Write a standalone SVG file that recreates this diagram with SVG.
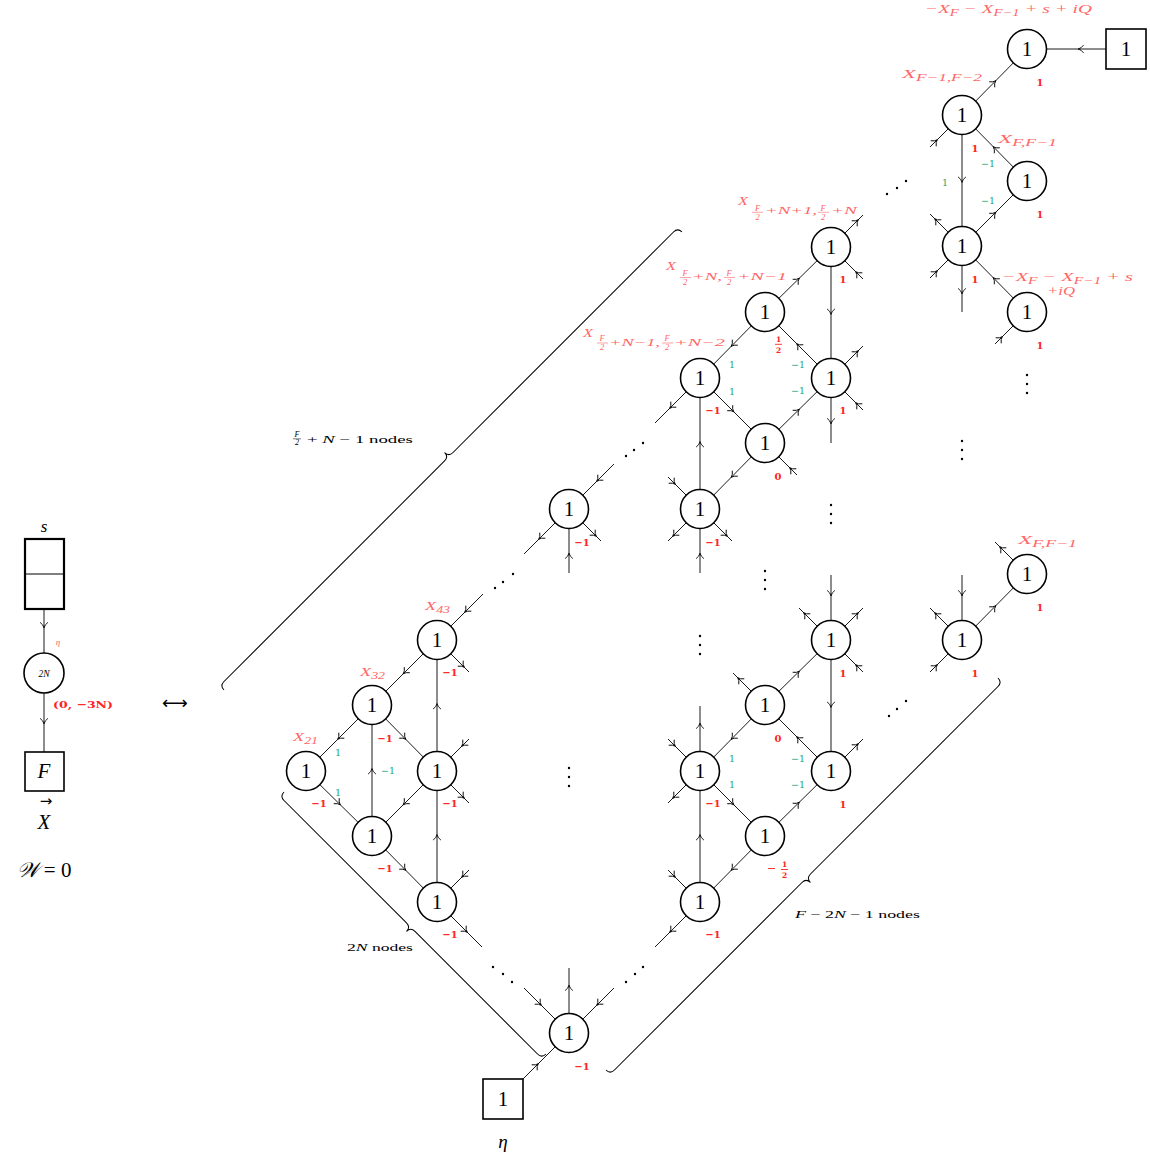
<svg xmlns="http://www.w3.org/2000/svg" xmlns:xlink="http://www.w3.org/1999/xlink" width="1150" height="1158" viewBox="0 0 1150 1158">
<style>
.e{stroke:#000;stroke-width:0.9;fill:none}
.br{stroke:#000;stroke-width:1;fill:none}
.nd{fill:#fff;stroke:#000;stroke-width:1.6}
.sq{fill:#fff;stroke:#000;stroke-width:1.6}
.t1{font-family:"Liberation Serif",serif;font-size:21px;text-anchor:middle;fill:#000}
.rn{font-family:"DejaVu Serif",serif;font-weight:bold;font-size:10px;fill:#f22;text-anchor:middle}
.gn{font-family:"DejaVu Serif",serif;font-size:9.5px;fill:#1fa36c;text-anchor:middle}
.xl{font-family:"Liberation Serif",serif;font-style:italic;font-size:12.5px;fill:#f66}
.sb{font-size:9.5px}
.fr{font-family:"Liberation Serif",serif;font-style:italic;font-size:8.5px;fill:#f66;text-anchor:middle}
.fb{stroke:#f66;stroke-width:0.6}
.rb{stroke:#f22;stroke-width:0.9}
.rf{font-family:"DejaVu Serif",serif;font-weight:bold;font-size:7.5px;fill:#f22;text-anchor:middle}
.bk{font-family:"Liberation Serif",serif;font-size:10px;fill:#000}
.bki{font-family:"Liberation Serif",serif;font-style:italic;font-size:8px;fill:#000;text-anchor:middle}
.m{font-family:"Liberation Serif",serif;font-style:italic;fill:#000;text-anchor:middle}
.dt{fill:#000}
</style>
<defs>
<path id="a" d="M-3.6,-3.9 Q-1.2,-0.6 1.9,0 Q-1.2,0.6 -3.6,3.9" fill="none" stroke="#000" stroke-width="0.9"/>
</defs>

<g id="connectors">
<path class="e" d="M1027,49H1106 M1027,49L962,115 M962,115L1027,181 M962,115V246 M1027,181L962,246 M962,246L1027,312"/>
<path class="e" d="M831,247L765,312 M831,247V378 M765,312L700,378 M765,312L831,378 M700,378L765,443 M831,378L765,443 M700,378V509 M765,443L700,509"/>
<path class="e" d="M1027,574L962,640"/>
<path class="e" d="M831,640L765,705 M831,640V771 M765,705L700,771 M765,705L831,771 M700,771L765,836 M831,771L765,836 M700,771V902 M765,836L700,902"/>
<path class="e" d="M437,640L372,705 M437,640V771 M372,705L306,771 M372,705L437,771 M372,705V836 M306,771L372,836 M437,771L372,836 M437,771V902 M372,836L437,902"/>
<path class="e" d="M569,1033L503,1099"/>
<path class="e" d="M962,115L930,147 M962,246L930,214 M962,246L930,278 M962,246V312 M1027,312L995,344"/>
<path class="e" d="M831,247L863,215 M831,247L863,279 M831,378L863,346 M831,378L863,410 M831,378V443 M700,378L655,423 M765,443L797,475"/>
<path class="e" d="M700,509L668,477 M700,509L668,541 M700,509L732,541 M700,509V573"/>
<path class="e" d="M569,509L614,464 M569,509L524,554 M569,509L601,541 M569,509V573"/>
<path class="e" d="M1027,574L995,542 M962,640V575 M962,640L930,608 M962,640L930,672"/>
<path class="e" d="M831,640V575 M831,640L799,608 M831,640L863,608 M831,640L863,672 M765,705L733,673 M831,771L863,739"/>
<path class="e" d="M700,771V706 M700,771L668,739 M700,771L668,803 M700,902L668,870 M700,902L655,947"/>
<path class="e" d="M437,640L483,594 M437,640L469,672 M437,771L469,739 M437,771L469,803 M437,902L469,870 M437,902L482,947"/>
<path class="e" d="M569,1033L524,988 M569,1033V968 M569,1033L614,988"/>
<path class="e" d="M44,609V653 M44,693V752"/>
<use href="#a" transform="translate(1080,49) rotate(180)"/>
<use href="#a" transform="translate(994.5,82) rotate(-45)"/>
<use href="#a" transform="translate(994.5,148) rotate(-135)"/>
<use href="#a" transform="translate(962,180.5) rotate(90)"/>
<use href="#a" transform="translate(994.5,213.5) rotate(-45)"/>
<use href="#a" transform="translate(994.5,279) rotate(-135)"/>
<use href="#a" transform="translate(798,279.5) rotate(-45)"/>
<use href="#a" transform="translate(831,312.5) rotate(90)"/>
<use href="#a" transform="translate(732.5,345) rotate(135)"/>
<use href="#a" transform="translate(798,345) rotate(-135)"/>
<use href="#a" transform="translate(732.5,410.5) rotate(45)"/>
<use href="#a" transform="translate(798,410.5) rotate(-45)"/>
<use href="#a" transform="translate(700,443.5) rotate(-90)"/>
<use href="#a" transform="translate(732.5,476) rotate(135)"/>
<use href="#a" transform="translate(994.5,607) rotate(-45)"/>
<use href="#a" transform="translate(798,672.5) rotate(-45)"/>
<use href="#a" transform="translate(831,705.5) rotate(90)"/>
<use href="#a" transform="translate(732.5,738) rotate(135)"/>
<use href="#a" transform="translate(798,738) rotate(-135)"/>
<use href="#a" transform="translate(732.5,803.5) rotate(45)"/>
<use href="#a" transform="translate(798,803.5) rotate(-45)"/>
<use href="#a" transform="translate(700,836.5) rotate(-90)"/>
<use href="#a" transform="translate(732.5,869) rotate(135)"/>
<use href="#a" transform="translate(404.5,672.5) rotate(135)"/>
<use href="#a" transform="translate(437,705.5) rotate(-90)"/>
<use href="#a" transform="translate(339,738) rotate(135)"/>
<use href="#a" transform="translate(404.5,738) rotate(45)"/>
<use href="#a" transform="translate(372,770.5) rotate(-90)"/>
<use href="#a" transform="translate(339,803.5) rotate(45)"/>
<use href="#a" transform="translate(404.5,803.5) rotate(135)"/>
<use href="#a" transform="translate(437,836.5) rotate(-90)"/>
<use href="#a" transform="translate(404.5,869) rotate(45)"/>
<use href="#a" transform="translate(537,1065) rotate(-45)"/>
<use href="#a" transform="translate(936,141) rotate(-45)"/>
<use href="#a" transform="translate(936,220) rotate(-135)"/>
<use href="#a" transform="translate(936,272) rotate(-45)"/>
<use href="#a" transform="translate(962,292) rotate(90)"/>
<use href="#a" transform="translate(1001,338) rotate(-45)"/>
<use href="#a" transform="translate(857,221) rotate(-45)"/>
<use href="#a" transform="translate(857,273) rotate(-135)"/>
<use href="#a" transform="translate(857,352) rotate(-45)"/>
<use href="#a" transform="translate(857,404) rotate(-135)"/>
<use href="#a" transform="translate(831,422) rotate(90)"/>
<use href="#a" transform="translate(671,407) rotate(135)"/>
<use href="#a" transform="translate(791,469) rotate(-135)"/>
<use href="#a" transform="translate(674,483) rotate(45)"/>
<use href="#a" transform="translate(674,535) rotate(135)"/>
<use href="#a" transform="translate(726,535) rotate(45)"/>
<use href="#a" transform="translate(700,555) rotate(-90)"/>
<use href="#a" transform="translate(598,480) rotate(135)"/>
<use href="#a" transform="translate(540,538) rotate(135)"/>
<use href="#a" transform="translate(595,535) rotate(45)"/>
<use href="#a" transform="translate(569,555) rotate(-90)"/>
<use href="#a" transform="translate(1001,548) rotate(-135)"/>
<use href="#a" transform="translate(962,594) rotate(90)"/>
<use href="#a" transform="translate(936,614) rotate(-135)"/>
<use href="#a" transform="translate(936,666) rotate(-45)"/>
<use href="#a" transform="translate(831,594) rotate(90)"/>
<use href="#a" transform="translate(805,614) rotate(-135)"/>
<use href="#a" transform="translate(857,614) rotate(-45)"/>
<use href="#a" transform="translate(857,666) rotate(-135)"/>
<use href="#a" transform="translate(739,679) rotate(-135)"/>
<use href="#a" transform="translate(857,745) rotate(-45)"/>
<use href="#a" transform="translate(700,725) rotate(-90)"/>
<use href="#a" transform="translate(674,745) rotate(45)"/>
<use href="#a" transform="translate(674,797) rotate(135)"/>
<use href="#a" transform="translate(674,876) rotate(45)"/>
<use href="#a" transform="translate(671,931) rotate(135)"/>
<use href="#a" transform="translate(466,611) rotate(135)"/>
<use href="#a" transform="translate(463,666) rotate(45)"/>
<use href="#a" transform="translate(463,745) rotate(135)"/>
<use href="#a" transform="translate(463,797) rotate(45)"/>
<use href="#a" transform="translate(463,876) rotate(135)"/>
<use href="#a" transform="translate(466,931) rotate(45)"/>
<use href="#a" transform="translate(540,1004) rotate(45)"/>
<use href="#a" transform="translate(569,987) rotate(-90)"/>
<use href="#a" transform="translate(598,1004) rotate(135)"/>
<use href="#a" transform="translate(44,626) rotate(90)"/>
<use href="#a" transform="translate(44,722) rotate(90)"/>
</g>

<g id="braces">
<path class="br" transform="translate(224,690) rotate(-45)" d="M0,0 Q0,-6 6,-6 L317.9,-6 Q323.9,-6 323.9,-12 Q323.9,-6 329.9,-6 L641.7,-6 Q647.7,-6 647.7,0"/>
<path class="br" transform="translate(546,1054) rotate(-135)" d="M0,0 Q0,-6 6,-6 L179.3,-6 Q185.3,-6 185.3,-12 Q185.3,-6 191.3,-6 L364.5,-6 Q370.5,-6 370.5,0"/>
<path class="br" transform="translate(998,678) rotate(135)" d="M0,0 Q0,-6 6,-6 L271.2,-6 Q277.2,-6 277.2,-12 Q277.2,-6 283.2,-6 L548.4,-6 Q554.4,-6 554.4,0"/>
</g>

<g id="dots">
<circle class="dt" cx="887" cy="194" r="1.2"/><circle class="dt" cx="897" cy="188" r="1.2"/><circle class="dt" cx="906" cy="181" r="1.2"/>
<circle class="dt" cx="626" cy="456" r="1.2"/><circle class="dt" cx="634" cy="450" r="1.2"/><circle class="dt" cx="643" cy="443" r="1.2"/>
<circle class="dt" cx="495" cy="588" r="1.2"/><circle class="dt" cx="503" cy="582" r="1.2"/><circle class="dt" cx="513" cy="574" r="1.2"/>
<circle class="dt" cx="889" cy="716" r="1.2"/><circle class="dt" cx="897" cy="709" r="1.2"/><circle class="dt" cx="906" cy="701" r="1.2"/>
<circle class="dt" cx="626" cy="982" r="1.2"/><circle class="dt" cx="635" cy="974" r="1.2"/><circle class="dt" cx="643" cy="967" r="1.2"/>
<circle class="dt" cx="493" cy="967" r="1.2"/><circle class="dt" cx="503" cy="974" r="1.2"/><circle class="dt" cx="512" cy="982" r="1.2"/>
<circle class="dt" cx="1027" cy="375" r="1.2"/><circle class="dt" cx="1027" cy="384" r="1.2"/><circle class="dt" cx="1027" cy="393" r="1.2"/>
<circle class="dt" cx="962" cy="441" r="1.2"/><circle class="dt" cx="962" cy="450" r="1.2"/><circle class="dt" cx="962" cy="459" r="1.2"/>
<circle class="dt" cx="831" cy="505" r="1.2"/><circle class="dt" cx="831" cy="514" r="1.2"/><circle class="dt" cx="831" cy="523" r="1.2"/>
<circle class="dt" cx="765" cy="571" r="1.2"/><circle class="dt" cx="765" cy="580" r="1.2"/><circle class="dt" cx="765" cy="589" r="1.2"/>
<circle class="dt" cx="700" cy="636" r="1.2"/><circle class="dt" cx="700" cy="645" r="1.2"/><circle class="dt" cx="700" cy="654" r="1.2"/>
<circle class="dt" cx="569" cy="768" r="1.2"/><circle class="dt" cx="569" cy="777" r="1.2"/><circle class="dt" cx="569" cy="786" r="1.2"/>
</g>

<g id="N1"><circle class="nd" cx="1027" cy="49" r="19.5"/><text class="t1" x="1027" y="56">1</text><text class="rn" x="1040" y="86">1</text></g>
<g id="S1"><rect class="sq" x="1106" y="29" width="40" height="40"/><text class="t1" x="1126" y="56">1</text></g>
<g id="N2"><circle class="nd" cx="962" cy="115" r="19.5"/><text class="t1" x="962" y="122">1</text><text class="rn" x="975" y="152">1</text></g>
<g id="N3"><circle class="nd" cx="1027" cy="181" r="19.5"/><text class="t1" x="1027" y="188">1</text><text class="rn" x="1040" y="218">1</text></g>
<g id="N4"><circle class="nd" cx="962" cy="246" r="19.5"/><text class="t1" x="962" y="253">1</text><text class="rn" x="975" y="283">1</text></g>
<g id="N5"><circle class="nd" cx="1027" cy="312" r="19.5"/><text class="t1" x="1027" y="319">1</text><text class="rn" x="1040" y="349">1</text></g>

<g id="M1"><circle class="nd" cx="831" cy="247" r="19.5"/><text class="t1" x="831" y="254">1</text><text class="rn" x="843" y="283">1</text></g>
<g id="M2"><circle class="nd" cx="765" cy="312" r="19.5"/><text class="t1" x="765" y="319">1</text>
<text class="rf" x="778.5" y="342">1</text><line class="rb" x1="775" y1="344.3" x2="782" y2="344.3"/><text class="rf" x="778.5" y="352.5">2</text></g>
<g id="M3"><circle class="nd" cx="700" cy="378" r="19.5"/><text class="t1" x="700" y="385">1</text><text class="rn" x="713" y="414">−1</text></g>
<g id="M4"><circle class="nd" cx="831" cy="378" r="19.5"/><text class="t1" x="831" y="385">1</text><text class="rn" x="843" y="414">1</text></g>
<g id="M5"><circle class="nd" cx="765" cy="443" r="19.5"/><text class="t1" x="765" y="450">1</text><text class="rn" x="778" y="480">0</text></g>
<g id="M6"><circle class="nd" cx="700" cy="509" r="19.5"/><text class="t1" x="700" y="516">1</text><text class="rn" x="713" y="546">−1</text></g>
<g id="M7"><circle class="nd" cx="569" cy="509" r="19.5"/><text class="t1" x="569" y="516">1</text><text class="rn" x="582" y="546">−1</text></g>

<g id="R1"><circle class="nd" cx="1027" cy="574" r="19.5"/><text class="t1" x="1027" y="581">1</text><text class="rn" x="1040" y="611">1</text></g>
<g id="R2"><circle class="nd" cx="962" cy="640" r="19.5"/><text class="t1" x="962" y="647">1</text><text class="rn" x="975" y="677">1</text></g>

<g id="L1"><circle class="nd" cx="831" cy="640" r="19.5"/><text class="t1" x="831" y="647">1</text><text class="rn" x="843" y="677">1</text></g>
<g id="L2"><circle class="nd" cx="765" cy="705" r="19.5"/><text class="t1" x="765" y="712">1</text><text class="rn" x="778" y="742">0</text></g>
<g id="L3"><circle class="nd" cx="700" cy="771" r="19.5"/><text class="t1" x="700" y="778">1</text><text class="rn" x="713" y="807">−1</text></g>
<g id="L4"><circle class="nd" cx="831" cy="771" r="19.5"/><text class="t1" x="831" y="778">1</text><text class="rn" x="843" y="808">1</text></g>
<g id="L5"><circle class="nd" cx="765" cy="836" r="19.5"/><text class="t1" x="765" y="843">1</text>
<line class="rb" x1="768" y1="868.5" x2="775" y2="868.5"/><text class="rf" x="784.5" y="867">1</text><line class="rb" x1="781" y1="869.5" x2="788" y2="869.5"/><text class="rf" x="784.5" y="877.5">2</text></g>
<g id="L6"><circle class="nd" cx="700" cy="902" r="19.5"/><text class="t1" x="700" y="909">1</text><text class="rn" x="713" y="938">−1</text></g>

<g id="A1"><circle class="nd" cx="437" cy="640" r="19.5"/><text class="t1" x="437" y="647">1</text><text class="rn" x="450" y="676">−1</text></g>
<g id="A2"><circle class="nd" cx="372" cy="705" r="19.5"/><text class="t1" x="372" y="712">1</text><text class="rn" x="385" y="742">−1</text></g>
<g id="A3"><circle class="nd" cx="306" cy="771" r="19.5"/><text class="t1" x="306" y="778">1</text><text class="rn" x="319" y="807">−1</text></g>
<g id="A4"><circle class="nd" cx="437" cy="771" r="19.5"/><text class="t1" x="437" y="778">1</text><text class="rn" x="450" y="807">−1</text></g>
<g id="A5"><circle class="nd" cx="372" cy="836" r="19.5"/><text class="t1" x="372" y="843">1</text><text class="rn" x="385" y="872">−1</text></g>
<g id="A6"><circle class="nd" cx="437" cy="902" r="19.5"/><text class="t1" x="437" y="909">1</text><text class="rn" x="450" y="938">−1</text></g>

<g id="B"><circle class="nd" cx="569" cy="1033" r="19.5"/><text class="t1" x="569" y="1040">1</text><text class="rn" x="582" y="1070">−1</text></g>
<g id="SB"><rect class="sq" x="483" y="1079" width="40" height="40"/><text class="t1" x="503" y="1106">1</text><text class="m" x="503" y="1148" font-size="19">η</text></g>

<g id="edge-labels">
<text class="gn" x="988" y="167">−1</text><text class="gn" x="945" y="186">1</text><text class="gn" x="988" y="204">−1</text>
<text class="gn" x="732" y="368">1</text><text class="gn" x="798" y="368">−1</text><text class="gn" x="732" y="395">1</text><text class="gn" x="798" y="394">−1</text>
<text class="gn" x="732" y="762">1</text><text class="gn" x="798" y="762">−1</text><text class="gn" x="732" y="788">1</text><text class="gn" x="798" y="788">−1</text>
<text class="gn" x="338" y="756">1</text><text class="gn" x="338" y="796">1</text><text class="gn" x="388" y="774">−1</text>
</g>

<g id="field-labels">
<text class="xl" x="925" y="13" textLength="167" lengthAdjust="spacingAndGlyphs">−X<tspan class="sb" dy="2.5">F</tspan><tspan dy="-2.5"> − X</tspan><tspan class="sb" dy="2.5">F−1</tspan><tspan dy="-2.5"> + s + iQ</tspan></text>
<text class="xl" x="902" y="78" textLength="80" lengthAdjust="spacingAndGlyphs">X<tspan class="sb" dy="3">F−1,F−2</tspan></text>
<text class="xl" x="998" y="143" textLength="59" lengthAdjust="spacingAndGlyphs">X<tspan class="sb" dy="3">F,F−1</tspan></text>
<text class="xl" x="1002" y="281" textLength="131" lengthAdjust="spacingAndGlyphs">−X<tspan class="sb" dy="2.5">F</tspan><tspan dy="-2.5"> − X</tspan><tspan class="sb" dy="2.5">F−1</tspan><tspan dy="-2.5"> + s</tspan></text>
<text class="xl" x="1047" y="295" textLength="28" lengthAdjust="spacingAndGlyphs">+iQ</text>
<text class="xl" x="1018" y="544" textLength="59" lengthAdjust="spacingAndGlyphs">X<tspan class="sb" dy="3">F,F−1</tspan></text>
<text class="xl" x="425" y="610" textLength="25" lengthAdjust="spacingAndGlyphs">X<tspan class="sb" dy="3">43</tspan></text>
<text class="xl" x="360" y="676" textLength="25" lengthAdjust="spacingAndGlyphs">X<tspan class="sb" dy="3">32</tspan></text>
<text class="xl" x="293" y="741" textLength="25" lengthAdjust="spacingAndGlyphs">X<tspan class="sb" dy="3">21</tspan></text>
<text class="xl" x="738" y="205" textLength="10" lengthAdjust="spacingAndGlyphs">X</text>
<text class="fr" x="757.5" y="210.5">F</text><line class="fb" x1="752" y1="212.3" x2="763" y2="212.3"/><text class="fr" x="757.5" y="219.5">2</text>
<text class="xl sb" x="765" y="214" textLength="52" lengthAdjust="spacingAndGlyphs">+N+1,</text>
<text class="fr" x="823" y="210.5">F</text><line class="fb" x1="818" y1="212.3" x2="829" y2="212.3"/><text class="fr" x="823" y="219.5">2</text>
<text class="xl sb" x="831" y="214" textLength="26" lengthAdjust="spacingAndGlyphs">+N</text>
<text class="xl" x="666" y="270" textLength="10" lengthAdjust="spacingAndGlyphs">X</text>
<text class="fr" x="685" y="275.5">F</text><line class="fb" x1="680" y1="277.5" x2="691" y2="277.5"/><text class="fr" x="685" y="284.5">2</text>
<text class="xl sb" x="692" y="279.5" textLength="30" lengthAdjust="spacingAndGlyphs">+N,</text>
<text class="fr" x="729" y="275.5">F</text><line class="fb" x1="724" y1="277.5" x2="735" y2="277.5"/><text class="fr" x="729" y="284.5">2</text>
<text class="xl sb" x="737" y="279.5" textLength="50" lengthAdjust="spacingAndGlyphs">+N−1</text>
<text class="xl" x="583" y="337" textLength="10" lengthAdjust="spacingAndGlyphs">X</text>
<text class="fr" x="602" y="341">F</text><line class="fb" x1="597" y1="343" x2="608" y2="343"/><text class="fr" x="602" y="350">2</text>
<text class="xl sb" x="609" y="345.5" textLength="51" lengthAdjust="spacingAndGlyphs">+N−1,</text>
<text class="fr" x="667" y="341">F</text><line class="fb" x1="662" y1="343" x2="673" y2="343"/><text class="fr" x="667" y="350">2</text>
<text class="xl sb" x="674" y="345.5" textLength="51" lengthAdjust="spacingAndGlyphs">+N−2</text>
</g>

<g id="brace-labels">
<text class="bki" x="297" y="437">F</text><line x1="293" y1="438.8" x2="301" y2="438.8" stroke="#000" stroke-width="0.5"/><text class="bki" x="297" y="445">2</text>
<text class="bk" x="307" y="443" textLength="106" lengthAdjust="spacingAndGlyphs">+ <tspan font-style="italic">N</tspan> − 1 nodes</text>
<text class="bk" x="795" y="918" textLength="125" lengthAdjust="spacingAndGlyphs"><tspan font-style="italic">F</tspan> − 2<tspan font-style="italic">N</tspan> − 1 nodes</text>
<text class="bk" x="347" y="951" textLength="66" lengthAdjust="spacingAndGlyphs">2<tspan font-style="italic">N</tspan> nodes</text>
</g>

<g id="left-quiver">
<g id="Ls"><rect x="25" y="539" width="39" height="70" fill="#fff" stroke="#000" stroke-width="2.2"/><line x1="25" y1="574" x2="64" y2="574" stroke="#000" stroke-width="1"/><text class="m" x="44" y="532" font-size="17">s</text></g>
<text class="m" x="58" y="645" font-size="9" style="fill:#f66">η</text>
<g id="L2N"><circle class="nd" cx="44" cy="673" r="20"/><text class="m" x="44" y="676.5" font-size="9.5">2N</text></g>
<text class="rn" x="53" y="708" style="text-anchor:start" textLength="60" lengthAdjust="spacingAndGlyphs">(0, −3N)</text>
<g id="LF"><rect class="sq" x="25" y="752" width="39" height="39"/><text class="m" x="44" y="778" font-size="21">F</text></g>
<text class="m" x="44" y="829" font-size="21">X</text>
<text x="46" y="806" font-family="DejaVu Sans, sans-serif" font-size="15" text-anchor="middle">→</text>
<text class="m" x="44" y="877" font-size="21">𝒲 <tspan font-style="normal">= 0</tspan></text>
<text x="175" y="709" font-family="DejaVu Sans, sans-serif" font-size="18" text-anchor="middle">⟷</text>
</g>
</svg>
